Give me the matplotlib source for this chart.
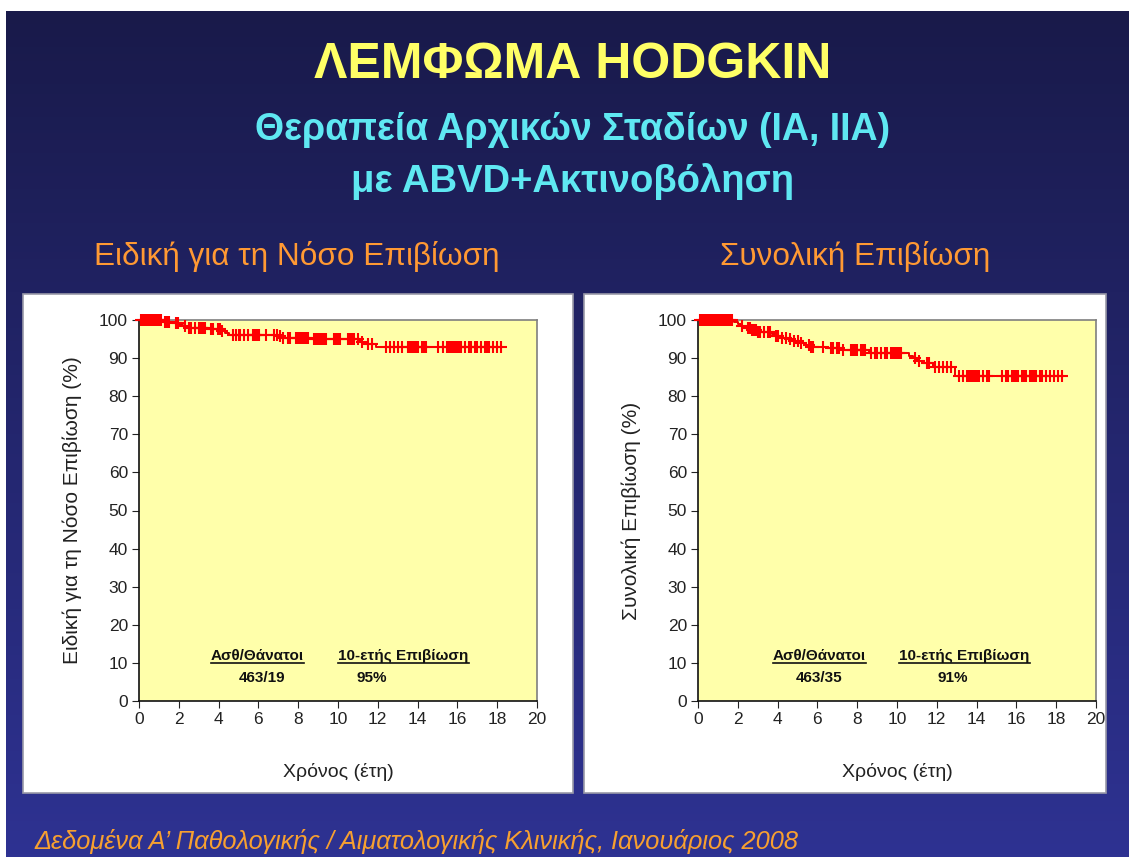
import matplotlib
matplotlib.use("Agg")
import matplotlib.pyplot as plt
import numpy as np
from matplotlib.colors import LinearSegmentedColormap
from matplotlib.patches import Rectangle
from matplotlib.lines import Line2D

plt.rcParams['font.family'] = ['Liberation Sans', 'DejaVu Sans']

#=======================================
# Data
#=======================================
title = "ΛΕΜΦΩΜΑ HODGKIN"
subtitle1 = "Θεραπεία Αρχικών Σταδίων (ΙΑ, ΙΙΑ)"
subtitle2 = "με ABVD+Ακτινοβόληση"
footer = "Δεδομένα Α’ Παθολογικής / Αιματολογικής Κλινικής, Ιανουάριος 2008"

x_ticks = [0, 2, 4, 6, 8, 10, 12, 14, 16, 18, 20]
y_ticks = [0, 10, 20, 30, 40, 50, 60, 70, 80, 90, 100]

# disease specific survival: step times (years) and survival (%)
dss_times = [0, 1.3, 1.7, 2.0, 2.2, 2.5, 3.5, 4.1, 4.3, 4.5, 7.0, 7.2, 8.6, 11.1, 11.4, 11.9]
dss_surv = [100, 99.6, 99.2, 98.8, 98.3, 98.0, 97.6, 97.2, 96.6, 96.1, 95.7, 95.3, 94.9, 94.2, 93.6, 93.0]
dss_end = 18.2
dss_censor = [0.1, 0.2, 0.3, 0.35, 0.4, 0.5, 0.55, 0.6, 0.7, 0.75, 0.8, 0.9, 0.95, 1.0, 1.05, 1.1,
              1.3, 1.4, 1.5, 1.85, 1.95, 2.3, 2.5, 2.6, 2.8, 3.0, 3.1, 3.15, 3.2, 3.3, 3.6, 3.7,
              3.95, 4.05, 4.15, 4.7, 4.85, 5.0, 5.1, 5.3, 5.5, 5.75, 5.8, 5.85, 5.9, 6.0, 6.05,
              6.4, 6.8, 6.95, 7.1, 7.25, 7.5, 7.6, 7.9, 8.0, 8.1, 8.2, 8.3, 8.4, 8.5,
              8.8, 8.9, 9.0, 9.1, 9.2, 9.3, 9.4, 9.8, 9.9, 10.0, 10.1, 10.5, 10.6, 10.7, 10.8,
              11.0, 11.2, 11.5, 11.7, 12.4, 12.6, 12.8, 13.0, 13.2,
              13.5, 13.6, 13.7, 13.8, 13.9, 14.0, 14.2, 14.3, 14.4,
              15.0, 15.3, 15.5, 15.6, 15.7, 15.8, 15.9, 16.0, 16.1, 16.2, 16.4, 16.6, 16.7,
              16.9, 17.0, 17.2, 17.4, 17.5, 17.6, 17.8, 18.0, 18.2]

# overall survival
os_times = [0, 1.8, 2.0, 2.2, 2.4, 2.7, 3.0, 3.7, 3.9, 4.2, 4.5, 4.8, 5.1, 5.4, 5.7, 6.5, 7.2,
            8.6, 10.6, 10.8, 11.0, 11.3, 11.8, 12.9]
os_surv = [100, 99.5, 99.0, 98.5, 97.9, 97.4, 96.9, 96.4, 95.9, 95.4, 94.9, 94.4, 93.9, 93.4,
           93.0, 92.6, 92.2, 91.3, 90.6, 89.9, 89.3, 88.6, 87.7, 85.3]
os_end = 18.3
os_censor = [0.1, 0.2, 0.3, 0.4, 0.5, 0.6, 0.7, 0.8, 0.9, 1.0, 1.1, 1.2, 1.3, 1.4, 1.5, 1.6, 1.7,
             2.2, 2.5, 2.6, 2.7, 2.8, 2.9, 3.0, 3.1, 3.3, 3.5, 3.6, 3.9, 4.0, 4.2, 4.4, 4.6,
             4.8, 5.0, 5.2, 5.6, 5.7, 5.8, 6.3, 6.7, 6.8, 7.0, 7.1, 7.3, 7.7, 7.8, 7.9, 8.0,
             8.2, 8.3, 8.4, 8.7, 8.9, 9.0, 9.2, 9.4, 9.5, 9.7, 9.8, 9.9, 10.0, 10.1, 10.2,
             10.9, 11.1, 11.5, 11.6, 11.9, 12.1, 12.3, 12.5, 12.7,
             13.1, 13.3, 13.5, 13.6, 13.7, 13.8, 13.9, 14.0, 14.1, 14.3, 14.5, 14.6,
             15.3, 15.5, 15.6, 15.8, 15.9, 16.0, 16.1, 16.3, 16.4, 16.5, 16.7, 16.8, 16.9,
             17.0, 17.2, 17.3, 17.5, 17.7, 17.9, 18.1, 18.3]

panel_titles = ["Ειδική για τη Νόσο Επιβίωση", "Συνολική Επιβίωση"]
y_labels = ["Ειδική για τη Νόσο Επιβίωση (%)", "Συνολική Επιβίωση (%)"]
x_label = "Χρόνος (έτη)"
patients_deaths = ["463/19", "463/35"]
ten_year = ["95%", "91%"]

#=======================================
# Figure & background
#=======================================
W, H = 1129, 857
fig = plt.figure(figsize=(W / 100, H / 100), dpi=100)

bg = fig.add_axes([6 / W, 0, 1 - 6 / W, 1 - 11 / H])
bg.set_zorder(-5)
bg.axis("off")
cmap = LinearSegmentedColormap.from_list("bg", ["#2e3292", "#191a4a"])
bg.imshow(np.linspace(0, 1, 256).reshape(-1, 1), aspect="auto", cmap=cmap,
          extent=[0, 1, 0, 1], origin="lower")
bg.set_xlim(0, 1)
bg.set_ylim(0, 1)

fig.text(573 / W, 1 - 65 / H, title, color="#ffff66", fontsize=36, fontweight="bold",
         ha="center", va="center")
fig.text(573 / W, 1 - 130 / H, subtitle1, color="#5fe8f2", fontsize=27, fontweight="bold",
         ha="center", va="center")
fig.text(573 / W, 1 - 182 / H, subtitle2, color="#5fe8f2", fontsize=27.5, fontweight="bold",
         ha="center", va="center")
fig.text(35 / W, 1 - 841 / H, footer, color="#f7a030", fontsize=18.3, style="italic",
         ha="left", va="center")

panel_x = [(23, 573), (584, 1106)]
axes_left = [139, 698]
title_cx = [297, 855]

for i, (px0, px1) in enumerate(panel_x):
    fig.patches.append(Rectangle((px0 / W, 1 - 793 / H), (px1 - px0) / W, 499 / H,
                                 transform=fig.transFigure, facecolor="white",
                                 edgecolor="#9a9aa8", linewidth=1.2, zorder=-1))
    fig.text(title_cx[i] / W, 1 - 257 / H, panel_titles[i], color="#ff9933", fontsize=22.7,
             ha="center", va="center")

#=======================================
# KM plots
#=======================================
def step_value(times, surv, t):
    idx = np.searchsorted(times, t, side="right") - 1
    return np.array(surv)[idx]

curves = [(dss_times, dss_surv, dss_end, dss_censor), (os_times, os_surv, os_end, os_censor)]
axes = []
for i, (times, surv, t_end, censor) in enumerate(curves):
    ax = fig.add_axes([axes_left[i] / W, 1 - 701 / H, 398 / W, 381 / H])
    ax.set_facecolor("#ffffaa")
    ax.step(list(times) + [t_end], list(surv) + [surv[-1]], where="post", color="#ee0000",
            linewidth=1.4, clip_on=False, zorder=3)
    censor = np.array(censor)
    ax.plot(censor, step_value(times, surv, censor), linestyle="none", marker="+",
            markersize=8, markeredgewidth=1.5, color="#ff0000", clip_on=False, zorder=4)
    ax.set_xlim(0, 20)
    ax.set_ylim(0, 100)
    ax.set_xticks(x_ticks)
    ax.set_yticks(y_ticks)
    ax.tick_params(direction="out", length=5, labelsize=12.5, colors="#222222", pad=3)
    for s in ["top", "right"]:
        ax.spines[s].set_color("#7f7f7f")
        ax.spines[s].set_linewidth(1.2)
    for s in ["left", "bottom"]:
        ax.spines[s].set_color("#111111")
        ax.spines[s].set_linewidth(1.2)
    ax.set_xlabel(x_label, fontsize=14, color="#222222", labelpad=26)
    ax.set_ylabel(y_labels[i], fontsize=15, color="#222222", labelpad=12)
    axes.append(ax)

hdr_x = [(5.95, 13.3), (6.1, 13.4)]
val_x = [(6.2, 11.7), (6.1, 12.8)]
headers = []
for i, ax in enumerate(axes):
    h1 = ax.text(hdr_x[i][0], 11.7, "Ασθ/Θάνατοι", fontsize=11, fontweight="bold",
                 ha="center", va="center", color="#111111")
    h2 = ax.text(hdr_x[i][1], 11.7, "10-ετής Επιβίωση", fontsize=11, fontweight="bold",
                 ha="center", va="center", color="#111111")
    ax.text(val_x[i][0], 6.0, patients_deaths[i], fontsize=11, fontweight="bold",
            ha="center", va="center", color="#111111")
    ax.text(val_x[i][1], 6.0, ten_year[i], fontsize=11, fontweight="bold",
            ha="center", va="center", color="#111111")
    headers += [h1, h2]

# underline the column headers
fig.canvas.draw()
renderer = fig.canvas.get_renderer()
inv = fig.transFigure.inverted()
for h in headers:
    bb = h.get_window_extent(renderer)
    (x0, y0), (x1, y1) = inv.transform([(bb.x0, bb.y0), (bb.x1, bb.y0)])
    fig.lines.append(Line2D([x0, x1], [y0 + 0.001, y0 + 0.001], transform=fig.transFigure,
                            color="#111111", linewidth=1.2))

fig.savefig("out.png", dpi=100)
